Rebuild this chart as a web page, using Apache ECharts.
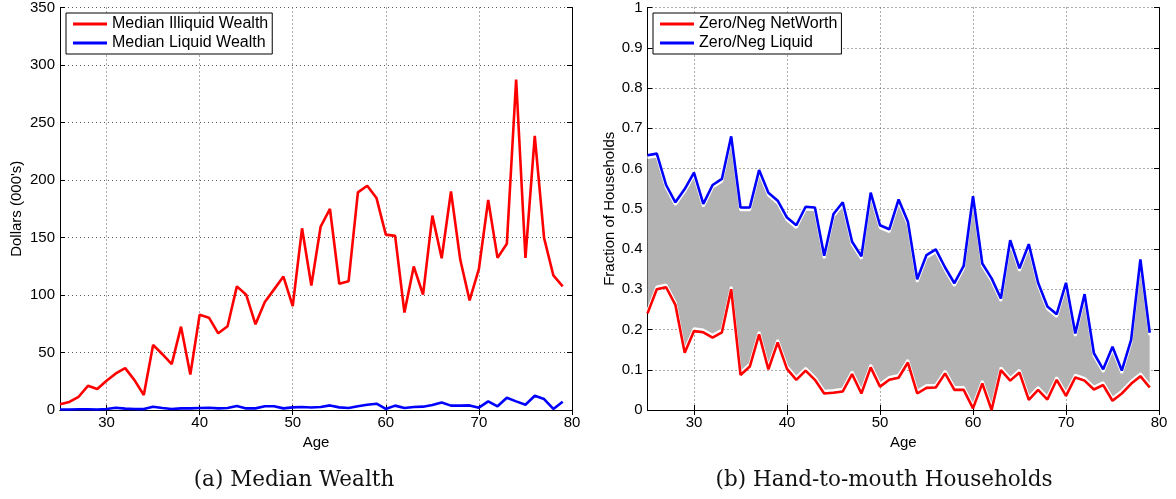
<!DOCTYPE html>
<html>
<head>
<meta charset="utf-8">
<script src="https://cdn.jsdelivr.net/npm/echarts@6/dist/echarts.min.js"></script>
<style>
  html, body { margin: 0; padding: 0; background: #fff; }
  #chart { width: 1176px; height: 499px; }
</style>
</head>
<body>
<div id="chart"></div>
<script>
// Age axis categories (axis runs from 25 to 80, data from 25 to 79)
const ageTicks = ['25','26','27','28','29','30','31','32','33','34','35','36','37','38','39',
  '40','41','42','43','44','45','46','47','48','49','50','51','52','53','54','55','56','57',
  '58','59','60','61','62','63','64','65','66','67','68','69','70','71','72','73','74','75',
  '76','77','78','79','80'];

// Panel (a): median wealth by age, thousands of dollars
const illiquidWealth = [5, 7, 11.5, 21, 18.2, 25.4, 31.8, 36.4, 26, 13,
  56.6, 48.5, 39.9, 72.5, 30.9, 82.9, 80.3, 66.7, 72.8, 107.5,
  100.3, 74.5, 93.9, 104.9, 116, 90.4, 158, 108.3, 159.5, 174.8,
  109.8, 112, 189.2, 195, 184.3, 152.5, 151.4, 84.7, 124.8, 100.3,
  169, 132, 190, 130.6, 95.3, 122.8, 182.6, 132.3, 144.5, 287.4,
  132.3, 238.3, 149.7, 117, 107.5];
const liquidWealth = [0.5, 0.5, 0.6, 0.7, 0.5, 0.9, 2.0, 1.2, 0.9, 0.8,
  2.9, 1.7, 0.9, 1.4, 1.4, 1.7, 2.0, 1.4, 1.7, 3.5,
  1.4, 1.4, 3.2, 3.2, 1.4, 2.3, 2.6, 2.2, 2.6, 4.0,
  2.3, 1.7, 3.2, 4.6, 5.5, 0.9, 3.8, 1.7, 2.6, 2.9,
  4.3, 6.6, 3.8, 3.8, 4.0, 2.0, 7.5, 3.2, 10.7, 7.5,
  4.6, 12.4, 9.5, 0.9, 7.2];

// Panel (b): fraction of hand-to-mouth households by age
const zeroNegNetWorth = [0.240, 0.300, 0.305, 0.261, 0.142, 0.196, 0.193, 0.180, 0.193, 0.300,
  0.087, 0.108, 0.188, 0.101, 0.168, 0.102, 0.075, 0.098, 0.075, 0.041,
  0.043, 0.046, 0.089, 0.041, 0.106, 0.058, 0.075, 0.080, 0.118, 0.041,
  0.055, 0.056, 0.091, 0.050, 0.050, 0.004, 0.066, 0.000, 0.099, 0.073,
  0.093, 0.025, 0.050, 0.026, 0.075, 0.035, 0.081, 0.073, 0.051, 0.062,
  0.023, 0.041, 0.065, 0.084, 0.056];
const zeroNegLiquid = [0.633, 0.637, 0.559, 0.516, 0.549, 0.590, 0.512, 0.559, 0.574, 0.680,
  0.503, 0.503, 0.596, 0.540, 0.520, 0.478, 0.459, 0.505, 0.503, 0.383,
  0.487, 0.516, 0.418, 0.382, 0.540, 0.459, 0.449, 0.523, 0.468, 0.325,
  0.385, 0.399, 0.354, 0.315, 0.358, 0.531, 0.364, 0.327, 0.277, 0.422,
  0.352, 0.412, 0.316, 0.257, 0.238, 0.316, 0.190, 0.288, 0.141, 0.101,
  0.157, 0.098, 0.174, 0.374, 0.192];

const wealthTicks = [0, 350, 50];     // min, max, step
const fractionTicks = [0, 1, 0.1];

// Gap between the two hand-to-mouth shares, stacked on top of the lower one
const htmBand = zeroNegLiquid.map((v, i) => +(v - zeroNegNetWorth[i]).toFixed(3));

const SANS = '"Liberation Sans", Arial, Helvetica, sans-serif';
const SERIF = '"DejaVu Serif", "Liberation Serif", serif';
const everyTen = (i, v) => (+v) % 10 === 0;

function bottomAxis(gridIndex) {
  return {
    type: 'category', gridIndex, data: ageTicks, boundaryGap: false,
    axisLine: { lineStyle: { color: '#000', width: 1 } },
    axisTick: { inside: true, length: 5, interval: everyTen, lineStyle: { color: '#000' } },
    axisLabel: { interval: everyTen, color: '#000', fontSize: 15, margin: 5, fontFamily: SANS },
    splitLine: { show: true, interval: everyTen, lineStyle: { color: '#555', type: [1, 3], width: 1 } },
    name: 'Age', nameLocation: 'middle', nameGap: 21,
    nameTextStyle: { color: '#000', fontSize: 15, fontFamily: SANS }
  };
}
function topAxis(gridIndex) {
  return {
    type: 'category', gridIndex, data: ageTicks, boundaryGap: false, position: 'top',
    axisLine: { lineStyle: { color: '#000', width: 1 } },
    axisTick: { inside: true, length: 5, interval: everyTen, lineStyle: { color: '#000' } },
    axisLabel: { show: false }, splitLine: { show: false }
  };
}
function leftAxis(gridIndex, t, name, gap) {
  return {
    type: 'value', gridIndex, min: t[0], max: t[1], interval: t[2],
    axisLine: { show: true, lineStyle: { color: '#000', width: 1 } },
    axisTick: { show: true, inside: true, length: 5, lineStyle: { color: '#000' } },
    axisLabel: { color: '#000', fontSize: 15, margin: 5, fontFamily: SANS },
    splitLine: { show: true, lineStyle: { color: '#555', type: [1, 3], width: 1 } },
    name, nameLocation: 'middle', nameGap: gap,
    nameTextStyle: { color: '#000', fontSize: 15, fontFamily: SANS }
  };
}
function rightAxis(gridIndex, t) {
  return {
    type: 'value', gridIndex, min: t[0], max: t[1], interval: t[2], position: 'right',
    axisLine: { show: true, lineStyle: { color: '#000', width: 1 } },
    axisTick: { show: true, inside: true, length: 5, lineStyle: { color: '#000' } },
    axisLabel: { show: false }, splitLine: { show: false }
  };
}
function legendBox(left, names) {
  return {
    left, top: 13, orient: 'vertical',
    data: names.map(n => ({ name: n, icon: 'rect' })),
    itemWidth: 34, itemHeight: 3, itemGap: 3,
    padding: [3, 4, 3, 7],
    borderColor: '#000', borderWidth: 1, backgroundColor: '#fff',
    textStyle: { color: '#000', fontSize: 16, lineHeight: 16, fontFamily: SANS },
    selectedMode: false
  };
}

const chart = echarts.init(document.getElementById('chart'), null, { renderer: 'canvas' });
chart.setOption({
  backgroundColor: '#fff',
  animation: false,
  grid: [
    { left: 60, top: 6, width: 512, height: 404 },
    { left: 647.5, top: 6, width: 511.5, height: 404 }
  ],
  xAxis: [bottomAxis(0), topAxis(0), bottomAxis(1), topAxis(1)],
  yAxis: [
    leftAxis(0, wealthTicks, "Dollars (000's)", 36), rightAxis(0, wealthTicks),
    leftAxis(1, fractionTicks, 'Fraction of Households', 27), rightAxis(1, fractionTicks)
  ],
  legend: [
    legendBox(66, ['Median Illiquid Wealth', 'Median Liquid Wealth']),
    legendBox(653, ['Zero/Neg NetWorth', 'Zero/Neg Liquid'])
  ],
  series: [
    { name: 'Median Illiquid Wealth', type: 'line', xAxisIndex: 0, yAxisIndex: 0,
      data: illiquidWealth, showSymbol: false, color: '#ff0000',
      lineStyle: { width: 2.6, color: '#ff0000' }, itemStyle: { color: '#ff0000' } },
    { name: 'Median Liquid Wealth', type: 'line', xAxisIndex: 0, yAxisIndex: 0,
      data: liquidWealth, showSymbol: false, color: '#0000ff',
      lineStyle: { width: 2.6, color: '#0000ff' }, itemStyle: { color: '#0000ff' } },

    // shaded band between the two hand-to-mouth shares
    { name: 'htmBase', type: 'line', xAxisIndex: 2, yAxisIndex: 2, stack: 'htm',
      data: zeroNegNetWorth, showSymbol: false, silent: true,
      lineStyle: { width: 0, opacity: 0 } },
    { name: 'htmBand', type: 'line', xAxisIndex: 2, yAxisIndex: 2, stack: 'htm',
      data: htmBand, showSymbol: false, silent: true,
      lineStyle: { width: 0, opacity: 0 },
      areaStyle: { color: '#b3b3b3', opacity: 1 } },

    { name: 'Zero/Neg NetWorth', type: 'line', xAxisIndex: 2, yAxisIndex: 2, z: 5,
      data: zeroNegNetWorth, showSymbol: false, color: '#ff0000',
      itemStyle: { color: '#ff0000' },
      lineStyle: { width: 2.6, color: '#ff0000', shadowColor: '#ffffff', shadowBlur: 0, shadowOffsetY: -2.5 } },
    { name: 'Zero/Neg Liquid', type: 'line', xAxisIndex: 2, yAxisIndex: 2, z: 5,
      data: zeroNegLiquid, showSymbol: false, color: '#0000ff',
      itemStyle: { color: '#0000ff' },
      lineStyle: { width: 2.6, color: '#0000ff', shadowColor: '#ffffff', shadowBlur: 0, shadowOffsetY: 2.5 } }
  ],
  graphic: [
    { type: 'text', x: 294, y: 480, style: { text: '(a) Median Wealth', font: '21.5px ' + SERIF,
      fill: '#111', align: 'center', verticalAlign: 'middle' } },
    { type: 'text', x: 884, y: 480, style: { text: '(b) Hand-to-mouth Households', font: '21.5px ' + SERIF,
      fill: '#111', align: 'center', verticalAlign: 'middle' } }
  ]
});
</script>
</body>
</html>
